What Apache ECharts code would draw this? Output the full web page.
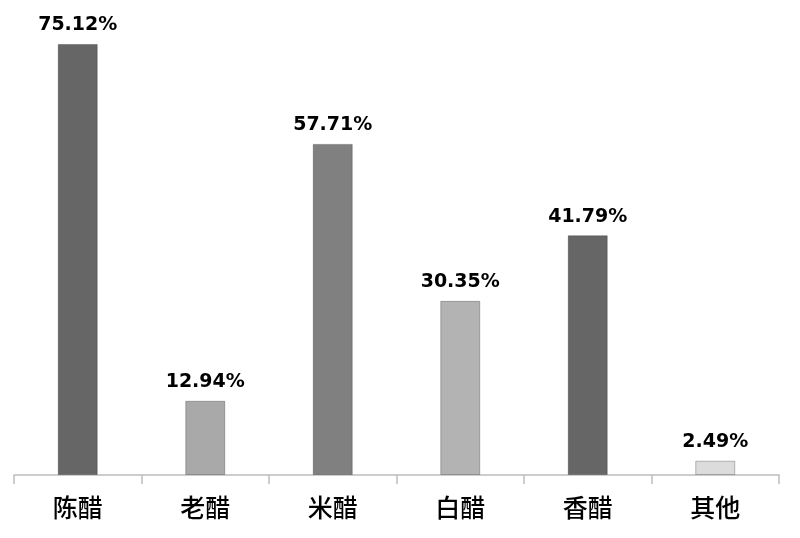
<!DOCTYPE html>
<html>
<head>
<meta charset="utf-8">
<title>醋类占比</title>
<script src="https://cdn.jsdelivr.net/npm/echarts@6/dist/echarts.min.js"></script>
<style>
    html, body { margin: 0; padding: 0; background: #fff; }
    #main { width: 800px; height: 538px; }
</style>
</head>
<body>
<div id="main"></div>
<script>
// 品类
var categories = ['陈醋', '老醋', '米醋', '白醋', '香醋', '其他'];
// 占比(%)
var values = [75.12, 12.94, 57.71, 30.35, 41.79, 2.49];
// 每根柱子的灰度
var barColors = ['#666666', '#a9a9a9', '#808080', '#b3b3b3', '#666666', '#dcdcdc'];

var myChart = echarts.init(document.getElementById('main'));

myChart.setOption({
    backgroundColor: '#ffffff',
    animation: false,
    grid: {
        left: 14,
        right: 21,
        top: 16,
        bottom: 63
    },
    xAxis: {
        type: 'category',
        data: categories,
        axisLine: {
            lineStyle: { color: '#bdbdbd', width: 1.5 }
        },
        axisTick: {
            show: true,
            length: 9,
            lineStyle: { color: '#bdbdbd', width: 1.5 }
        },
        axisLabel: {
            color: '#000',
            fontSize: 25,
            fontWeight: 500,
            fontFamily: 'Noto Sans CJK SC',
            margin: 20
        }
    },
    yAxis: {
        type: 'value',
        min: 0,
        max: 80,
        show: false,
        splitLine: { show: false }
    },
    series: [{
        type: 'bar',
        barWidth: 40,
        data: values.map(function (v, i) {
            return {
                value: v,
                itemStyle: {
                    color: barColors[i],
                    borderColor: 'rgba(0,0,0,0.25)',
                    borderWidth: 1
                }
            };
        }),
        label: {
            show: true,
            position: 'top',
            distance: 9,
            color: '#000',
            fontSize: 19,
            fontWeight: 'bold',
            fontFamily: 'DejaVu Sans',
            formatter: function (p) {
                return p.value.toFixed(2) + '%';
            }
        }
    }]
});
</script>
</body>
</html>
